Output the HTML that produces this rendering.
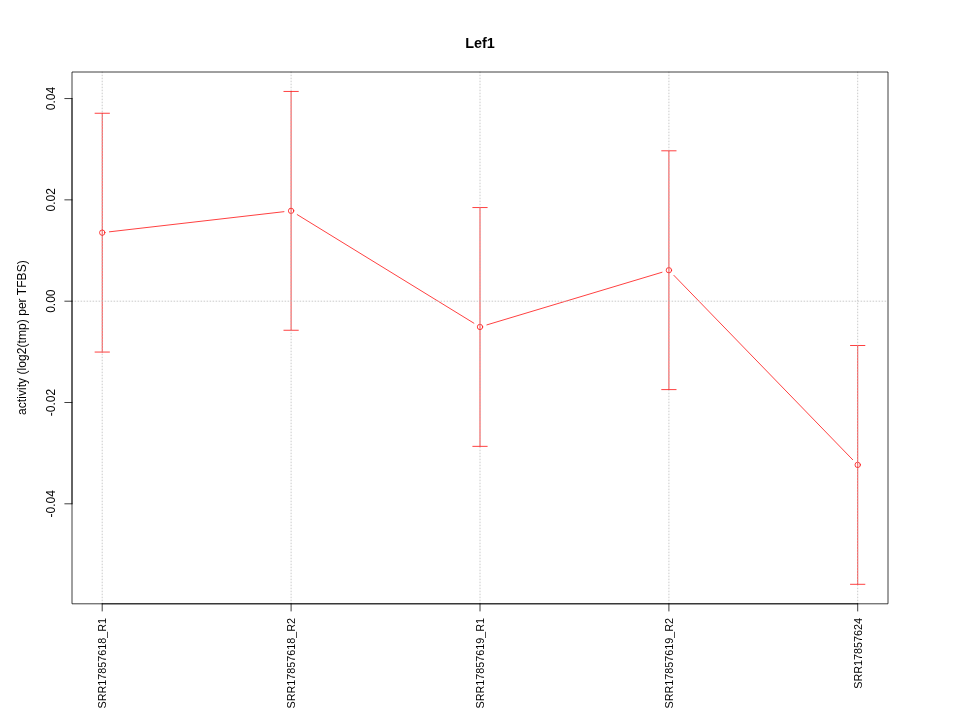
<!DOCTYPE html>
<html><head><meta charset="utf-8"><title>Lef1</title>
<style>
html,body{margin:0;padding:0;background:#fff;}
body{width:960px;height:720px;overflow:hidden;}
svg{display:block;will-change:transform;}
text{font-family:"Liberation Sans",sans-serif;fill:#000;}
</style></head><body>
<svg width="960" height="720" viewBox="0 0 960 720">
<rect x="0" y="0" width="960" height="720" fill="#fff"/>
<g stroke="#ff0000" stroke-width="0.75" fill="none" stroke-linecap="round">
<line x1="109.40" y1="231.82" x2="283.95" y2="211.68"/>
<line x1="297.23" y1="214.62" x2="473.87" y2="323.18"/>
<line x1="486.90" y1="324.88" x2="662.00" y2="272.27"/>
<line x1="673.91" y1="275.37" x2="852.69" y2="459.73"/>
<circle cx="102.25" cy="232.65" r="2.7"/>
<circle cx="291.10" cy="210.85" r="2.7"/>
<circle cx="480.00" cy="326.95" r="2.7"/>
<circle cx="668.90" cy="270.20" r="2.7"/>
<circle cx="857.70" cy="464.90" r="2.7"/>
<path d="M102.25 113.25V352.05M95.05 113.25H109.45M95.05 352.05H109.45"/>
<path d="M291.10 91.45V330.25M283.90 91.45H298.30M283.90 330.25H298.30"/>
<path d="M480.00 207.55V446.35M472.80 207.55H487.20M472.80 446.35H487.20"/>
<path d="M668.90 150.80V389.60M661.70 150.80H676.10M661.70 389.60H676.10"/>
<path d="M857.70 345.50V584.30M850.50 345.50H864.90M850.50 584.30H864.90"/>
</g>
<g stroke="#b8b8b8" stroke-width="0.75" stroke-dasharray="0.75 2.25" stroke-linecap="round" fill="none">
<line x1="102.2" y1="603.8" x2="102.2" y2="72.0"/>
<line x1="291.1" y1="603.8" x2="291.1" y2="72.0"/>
<line x1="480.0" y1="603.8" x2="480.0" y2="72.0"/>
<line x1="668.9" y1="603.8" x2="668.9" y2="72.0"/>
<line x1="857.7" y1="603.8" x2="857.7" y2="72.0"/>
<line x1="72.0" y1="301.2" x2="888.0" y2="301.2"/>
</g>
<rect x="72.0" y="72.0" width="816.0" height="531.8" stroke="#000" stroke-width="0.75" fill="none" stroke-linejoin="round"/>
<g stroke="#000" stroke-width="0.75" fill="none" stroke-linecap="round">
<line x1="72.0" y1="98.55" x2="72.0" y2="503.80"/>
<line x1="72.0" y1="98.55" x2="64.8" y2="98.55"/>
<line x1="72.0" y1="199.85" x2="64.8" y2="199.85"/>
<line x1="72.0" y1="301.20" x2="64.8" y2="301.20"/>
<line x1="72.0" y1="402.50" x2="64.8" y2="402.50"/>
<line x1="72.0" y1="503.80" x2="64.8" y2="503.80"/>
<line x1="102.2" y1="603.8" x2="857.7" y2="603.8"/>
<line x1="102.2" y1="603.8" x2="102.2" y2="611.0"/>
<line x1="291.1" y1="603.8" x2="291.1" y2="611.0"/>
<line x1="480.0" y1="603.8" x2="480.0" y2="611.0"/>
<line x1="668.9" y1="603.8" x2="668.9" y2="611.0"/>
<line x1="857.7" y1="603.8" x2="857.7" y2="611.0"/>
</g>
<text x="480" y="47.7" font-size="14.4" font-weight="bold" text-anchor="middle">Lef1</text>
<text transform="translate(55.2 98.55) rotate(-90)" font-size="12" text-anchor="middle">0.04</text>
<text transform="translate(55.2 199.85) rotate(-90)" font-size="12" text-anchor="middle">0.02</text>
<text transform="translate(55.2 301.20) rotate(-90)" font-size="12" text-anchor="middle">0.00</text>
<text transform="translate(55.2 402.50) rotate(-90)" font-size="12" text-anchor="middle">-0.02</text>
<text transform="translate(55.2 503.80) rotate(-90)" font-size="12" text-anchor="middle">-0.04</text>
<text transform="translate(25.8 337.6) rotate(-90)" font-size="12" letter-spacing="0.055" text-anchor="middle">activity (log2(tmp) per TFBS)</text>
<text transform="translate(106.2 617.9) rotate(-90)" font-size="10.8" text-anchor="end">SRR17857618_R1</text>
<text transform="translate(295.0 617.9) rotate(-90)" font-size="10.8" text-anchor="end">SRR17857618_R2</text>
<text transform="translate(483.9 617.9) rotate(-90)" font-size="10.8" text-anchor="end">SRR17857619_R1</text>
<text transform="translate(672.8 617.9) rotate(-90)" font-size="10.8" text-anchor="end">SRR17857619_R2</text>
<text transform="translate(861.6 617.9) rotate(-90)" font-size="10.8" text-anchor="end">SRR17857624</text>
</svg>
</body></html>
